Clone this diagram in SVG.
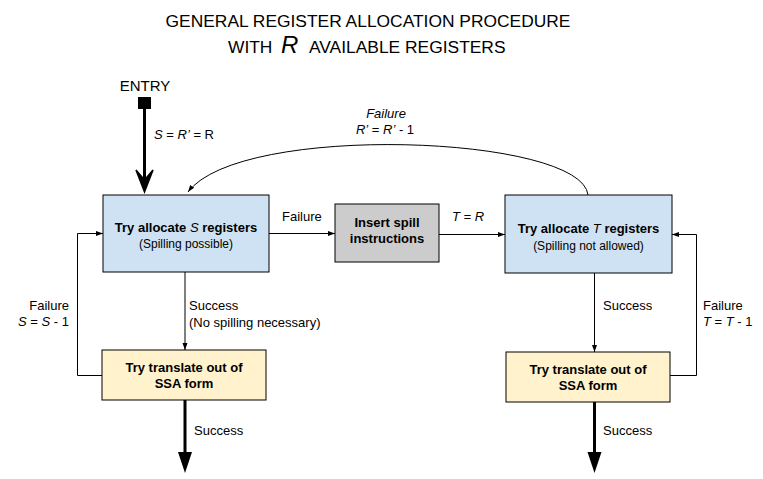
<svg xmlns="http://www.w3.org/2000/svg" width="763" height="479" viewBox="0 0 763 479">
<style>
text{font-family:"Liberation Sans",Arial,sans-serif;fill:#000}
.t{font-size:17.4px}
.lbl{font-size:13px}
.b{font-size:13px;font-weight:bold;text-anchor:middle}
.s{font-size:12px;text-anchor:middle}
.box{stroke:#000;stroke-width:1}
.thin{fill:none;stroke:#000;stroke-width:1}
.thick{fill:none;stroke:#000;stroke-width:3}
</style>
<defs>
<marker id="ah" markerWidth="8" markerHeight="8" refX="7" refY="4" orient="auto" markerUnits="userSpaceOnUse">
<path d="M0,1.5 L7,4 L0,6.5 Z" fill="#000"/>
</marker>
</defs>
<g id="title">
<text class="t" x="368" y="27" text-anchor="middle">GENERAL REGISTER ALLOCATION PROCEDURE</text>
<text class="t" x="228" y="53">WITH</text>
<text x="281" y="53" font-size="24" font-style="italic">R</text>
<text class="t" x="309" y="53">AVAILABLE REGISTERS</text>
</g>
<g id="entry">
<text x="145" y="91" font-size="15" text-anchor="middle">ENTRY</text>
<rect x="138" y="97" width="13" height="12" fill="#000"/>
</g>
<g id="connectors">
<line class="thick" x1="144.5" y1="109" x2="144.5" y2="188"/>
<path d="M136,170 L144.5,192 L153,170 L144.5,180 Z" fill="#000" stroke="#000" stroke-width="1.5" stroke-linejoin="miter"/>
<path class="thin" d="M588,195 C582,135 240,122 188,192" marker-end="url(#ah)"/>
<line class="thin" x1="269" y1="233.5" x2="335" y2="233.5" marker-end="url(#ah)"/>
<line class="thin" x1="439" y1="234.5" x2="505" y2="234.5" marker-end="url(#ah)"/>
<line class="thin" x1="185" y1="272" x2="185" y2="350" marker-end="url(#ah)"/>
<line class="thin" x1="594.5" y1="273" x2="594.5" y2="352" marker-end="url(#ah)"/>
<polyline class="thin" points="102,375.5 77.5,375.5 77.5,233.5 103,233.5" marker-end="url(#ah)"/>
<polyline class="thin" points="670,375.5 696.5,375.5 696.5,234.5 672,234.5" marker-end="url(#ah)"/>
<line class="thick" x1="185" y1="400" x2="185" y2="455"/>
<path d="M178,452 L185,473 L192,452 Z" fill="#000"/>
<line class="thick" x1="594.5" y1="402" x2="594.5" y2="455"/>
<path d="M587.5,452 L594.5,473 L601.5,452 Z" fill="#000"/>
</g>
<g id="labels">
<text class="lbl" x="154" y="139"><tspan font-style="italic">S</tspan> = <tspan font-style="italic">R’</tspan> = R</text>
<text class="lbl" x="386" y="118" text-anchor="middle" font-style="italic">Failure</text>
<text class="lbl" x="385" y="134" text-anchor="middle"><tspan font-style="italic">R’</tspan> = <tspan font-style="italic">R’</tspan> - 1</text>
<text class="lbl" x="282" y="221">Failure</text>
<text class="lbl" x="452" y="221" font-style="italic">T = R</text>
<text class="lbl" x="69" y="310" text-anchor="end">Failure</text>
<text class="lbl" x="69" y="326" text-anchor="end"><tspan font-style="italic">S</tspan> = <tspan font-style="italic">S</tspan> - 1</text>
<text class="lbl" x="703" y="310">Failure</text>
<text class="lbl" x="703" y="326"><tspan font-style="italic">T</tspan> = <tspan font-style="italic">T</tspan> - 1</text>
<text class="lbl" x="189" y="310">Success</text>
<text class="lbl" x="189" y="327">(No spilling necessary)</text>
<text class="lbl" x="603" y="310">Success</text>
<text class="lbl" x="194" y="435">Success</text>
<text class="lbl" x="603" y="435">Success</text>
</g>
<g id="allocS">
<rect class="box" x="103" y="195" width="166" height="77" fill="#cfe2f3"/>
<text class="b" x="186" y="232">Try allocate <tspan font-style="italic" font-weight="normal">S</tspan> registers</text>
<text class="s" x="186" y="248">(Spilling possible)</text>
</g>
<g id="spill">
<rect class="box" x="335" y="204" width="104" height="58" fill="#cccccc"/>
<text class="b" x="387" y="227">Insert spill</text>
<text class="b" x="387" y="243">instructions</text>
</g>
<g id="allocT">
<rect class="box" x="505" y="195" width="167" height="78" fill="#cfe2f3"/>
<text class="b" x="588.5" y="233">Try allocate <tspan font-style="italic" font-weight="normal">T</tspan> registers</text>
<text class="s" x="588.5" y="250">(Spilling not allowed)</text>
</g>
<g id="ssaLeft">
<rect class="box" x="102" y="350" width="164" height="50" fill="#fff2cc"/>
<text class="b" x="184" y="372">Try translate out of</text>
<text class="b" x="184" y="388">SSA form</text>
</g>
<g id="ssaRight">
<rect class="box" x="506" y="352" width="164" height="50" fill="#fff2cc"/>
<text class="b" x="588" y="374">Try translate out of</text>
<text class="b" x="588" y="390">SSA form</text>
</g>
</svg>
